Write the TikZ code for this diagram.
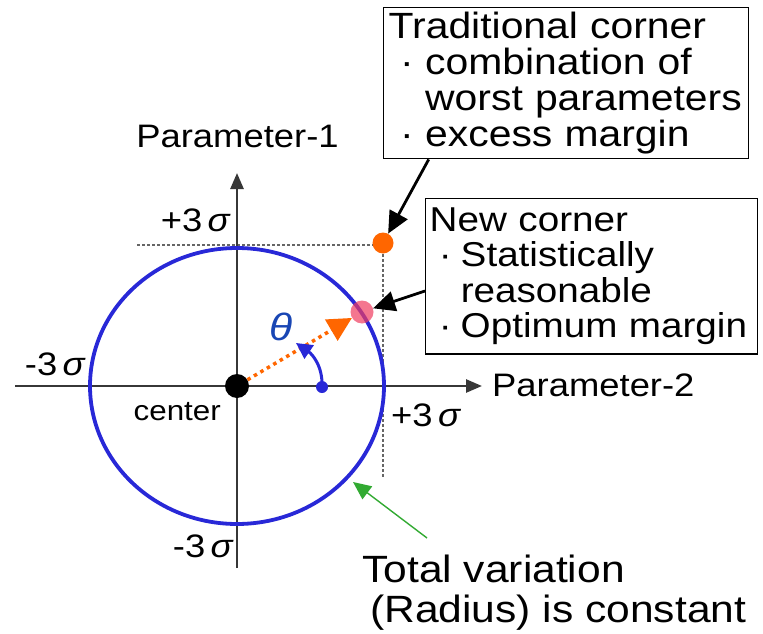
\documentclass[tikz,border=0pt]{standalone}
\usepackage{fontspec}
\setmainfont{Liberation Sans}[FakeStretch=1.12]
\usetikzlibrary{arrows.meta,backgrounds}
\definecolor{axisgray}{RGB}{55,55,55}
\definecolor{ringblue}{RGB}{40,40,215}
\definecolor{thetablue}{RGB}{25,70,180}
\definecolor{cornerorange}{RGB}{255,102,0}
\definecolor{statpink}{RGB}{240,60,95}
\definecolor{hintgreen}{RGB}{50,170,50}
\newcommand{\sig}{\,\textit{σ}}
\newcommand{\itm}[1][1em]{\makebox[#1][c]{·}}

\begin{document}
\begin{tikzpicture}[x=1pt,y=-1pt,
  axis/.style={-{Triangle[length=16pt,width=13pt]},line width=2.6pt,draw=axisgray},
  guide/.style={draw=gray!80!black,line width=1.4pt,dash pattern=on 3pt off 2pt},
  ring/.style={draw=ringblue,line width=3.8pt},
  lbl/.style={inner sep=0pt,font=\fontsize{32.5}{36}\selectfont},
  note/.style={draw,line width=1.4pt,align=left,anchor=north west},
  callout/.style={-{Triangle[length=22pt,width=20pt]},line width=2.8pt},
  dot/.style={circle,inner sep=0pt,minimum size=#1},
  dot/.default=20pt]

  \useasboundingbox (0,0) rectangle (763,634);

  % axes and guides
  \coordinate (xl) at (15,386);
  \coordinate (xr) at (482,386);
  \coordinate (yb) at (237,568);
  \coordinate (yt) at (237,173);
  \coordinate (gl) at (137,245);
  \coordinate (gb) at (383,478);
  \draw[guide] (gl) -| (gb);
  \draw[axis] (xl) -- (xr);
  \draw[axis] (yb) -- (yt);

  \node[dot=24pt,fill=black] (ctr) at (237,386) {};
  \draw[ring] (ctr) ellipse [x radius=147, y radius=138];

  \node[dot=21pt,fill=cornerorange] (worst) at (383,243) {};
  \node[dot=23pt,fill=statpink,fill opacity=0.7] (stat) at (362,312) {};

  \begin{scope}[on background layer]
    \draw[draw=cornerorange,line width=3.5pt,dash pattern=on 3.5pt off 4pt,
      -{Triangle[length=24pt,width=24pt]}] (ctr) -- (stat);
  \end{scope}

  % angle
  \node[dot=12pt,fill=ringblue] (bdot) at (322,387) {};
  \coordinate (thtip) at (296,343);
  \draw[draw=ringblue,line width=3pt,-{Triangle[length=16pt,width=16pt]}]
    (bdot.center) .. controls (323,366) and (312,354) .. (thtip);
  \node[text=thetablue,font=\fontsize{38}{40}\selectfont\itshape] (theta) at (281,327) {θ};

  % labels
  \node[lbl] (p1) at (237.5,136) {Parameter-1};
  \node[lbl,anchor=west] (p2) at (492,385) {Parameter-2};
  \node[lbl,anchor=east] (ytop) at (231,220) {+3\sig};
  \node[lbl,anchor=east] (xlft) at (86,364) {-3\sig};
  \node[lbl,anchor=west] (xrgt) at (391,415) {+3\sig};
  \node[lbl,anchor=east] (ybot) at (234,546) {-3\sig};
  \node[lbl,anchor=east,font=\fontsize{28}{30}\selectfont] (cname) at (221,412) {center};

  \node[note,text width=355pt,inner xsep=5pt,inner ysep=4.5pt,font=\fontsize{36.5}{36}\selectfont] (trad) at (383,7)
    {Traditional corner\\\itm combination of\\\hspace*{1em}worst parameters\\\itm excess margin};
  \node[note,text width=324pt,inner xsep=4pt,inner ysep=9pt,font=\fontsize{34.5}{35.5}\selectfont] (newc) at (425,198)
    {New corner\\\itm[0.9em]Statistically\\\hspace*{0.9em}reasonable\\\itm[0.9em]Optimum margin};

  \draw[callout] (trad.209) -- (worst);
  \draw[callout] (newc.185) -- (stat);

  \node[inner sep=0pt,anchor=north west,align=left,font=\fontsize{38}{40}\selectfont] (total) at (362,555)
    {Total variation\\\hspace*{8pt}(Radius) is constant};
  \coordinate (gtail) at (427,538);
  \coordinate (gtip) at (353,482);
  \draw[draw=hintgreen,line width=1.4pt,-{Triangle[length=18pt,width=16pt]}] (gtail) -- (gtip);
\end{tikzpicture}
\end{document}
